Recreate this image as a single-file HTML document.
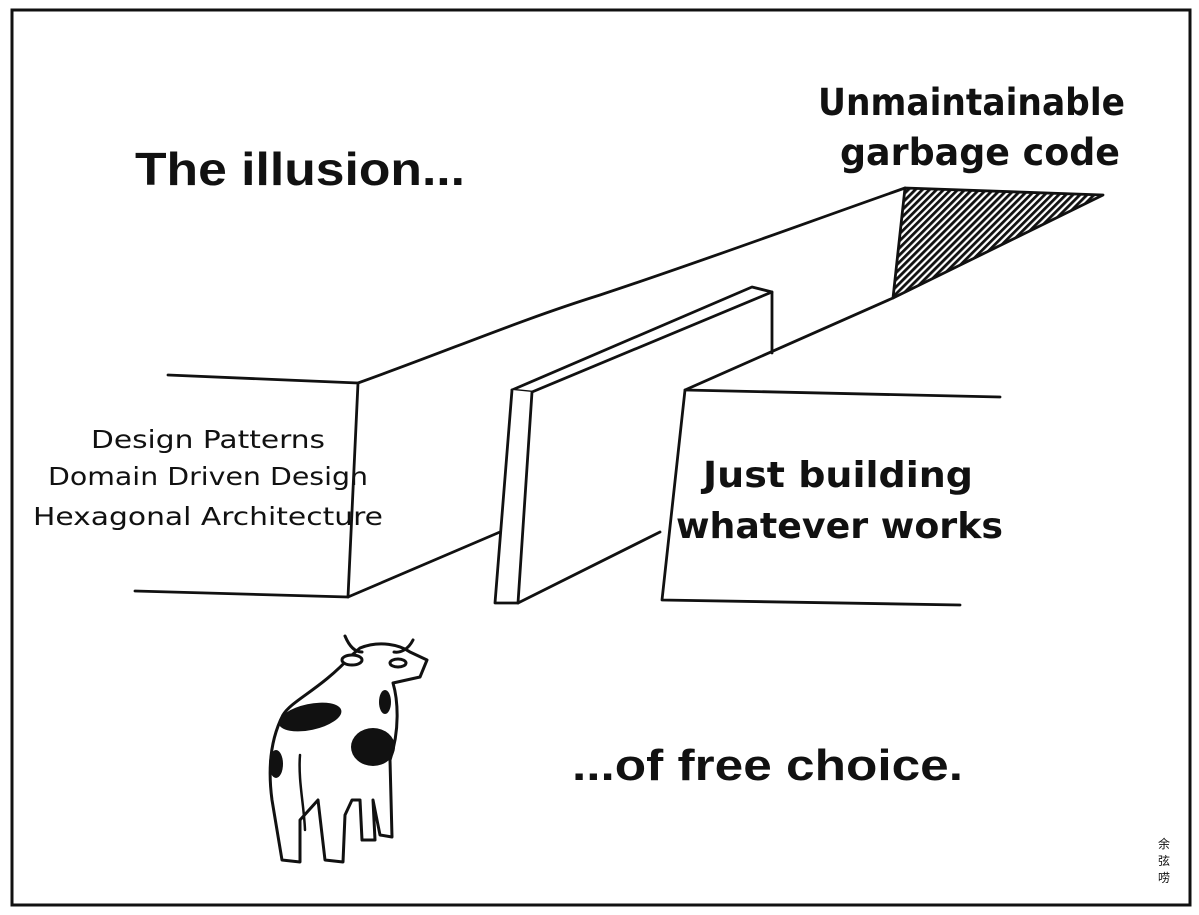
<!DOCTYPE html>
<html><head><meta charset="utf-8"><style>html,body{margin:0;padding:0;background:#fff}svg{display:block}</style></head><body>
<svg width="1199" height="915" viewBox="0 0 1199 915" xmlns="http://www.w3.org/2000/svg">
<defs>
<pattern id="h" width="5" height="5" patternUnits="userSpaceOnUse" patternTransform="rotate(45)">
<rect width="5" height="5" fill="#fff"/><rect width="2.8" height="5" fill="#111"/></pattern>
</defs>
<rect x="12" y="10" width="1178" height="895" fill="#fff" stroke="#111" stroke-width="3"/>
<g fill="none" stroke="#111" stroke-width="2.8" stroke-linejoin="round" stroke-linecap="round">
<path d="M168,375 L358,383 L348,597 L135,591"/>
<path d="M358,383 C450,350 520,320 600,295 C700,262 800,225 905,188"/>
<path d="M348,597 L500,532"/>
<path d="M905,188 L1103,195 L893,298 Z" fill="url(#h)"/>
<path d="M893,298 L685,390 L662,600 L960,605"/>
<path d="M685,390 L1000,397"/>
<path d="M518,603 L660,532"/>
<path d="M512,390 L752,287 L772,292 L772,353"/>
<path d="M512,390 L532,392 L772,292"/>
<path d="M512,390 L495,603 L518,603 L532,392" fill="#fff"/>
</g>
<g font-family="Liberation Sans, sans-serif" fill="#111" font-weight="bold">
<text x="135" y="185" font-size="46" textLength="330" lengthAdjust="spacingAndGlyphs">The illusion...</text>
<text x="572" y="780" font-size="44" textLength="391" lengthAdjust="spacingAndGlyphs">...of free choice.</text>
</g>
<g font-family="DejaVu Sans, sans-serif" fill="#111" font-weight="bold">
<text x="818" y="115" font-size="37" textLength="307" lengthAdjust="spacingAndGlyphs">Unmaintainable</text>
<text x="840" y="165" font-size="37" textLength="280" lengthAdjust="spacingAndGlyphs">garbage code</text>
<text x="703" y="487" font-size="36" textLength="270" lengthAdjust="spacingAndGlyphs">Just building</text>
<text x="676" y="538" font-size="36" textLength="327" lengthAdjust="spacingAndGlyphs">whatever works</text>
</g>
<g font-family="DejaVu Sans, sans-serif" fill="#111">
<text x="91" y="448" font-size="25" textLength="234" lengthAdjust="spacingAndGlyphs">Design Patterns</text>
<text x="48" y="485" font-size="25" textLength="320" lengthAdjust="spacingAndGlyphs">Domain Driven Design</text>
<text x="33" y="525" font-size="25" textLength="350" lengthAdjust="spacingAndGlyphs">Hexagonal Architecture</text>
<text x="1158" y="848" font-size="12" font-family="Noto Sans CJK SC, sans-serif">余</text>
<text x="1158" y="865" font-size="12" font-family="Noto Sans CJK SC, sans-serif">弦</text>
<text x="1158" y="882" font-size="12" font-family="Noto Sans CJK SC, sans-serif">唠</text>
</g>
<g stroke="#111" stroke-width="3" stroke-linejoin="round" stroke-linecap="round">
<path d="M352,655 C320,690 292,700 283,715 C270,740 268,770 272,800 L282,860 L300,862 L300,820 L318,800 L325,860 L343,862 L345,815 L352,800 L360,800 L362,840 L375,840 L373,800 L380,835 L392,837 L390,760 C400,730 398,700 393,683 L420,677 L427,660 L410,652 C400,645 380,640 360,648 Z" fill="#fff"/>
<path d="M345,636 C350,648 356,652 362,652" fill="none"/>
<path d="M413,640 C408,650 400,653 394,652" fill="none"/>
<ellipse cx="352" cy="660" rx="10" ry="5" fill="#fff"/>
<ellipse cx="398" cy="663" rx="8" ry="4" fill="#fff"/>
<path d="M300,755 C298,780 304,805 305,830" fill="none" stroke-width="2.5"/>
</g>
<g fill="#111">
<ellipse cx="310" cy="717" rx="32" ry="13" transform="rotate(-12 310 717)"/>
<ellipse cx="373" cy="747" rx="22" ry="19"/>
<ellipse cx="276" cy="764" rx="7" ry="14"/>
<ellipse cx="385" cy="702" rx="6" ry="12"/>
</g>
</svg>
</body></html>
